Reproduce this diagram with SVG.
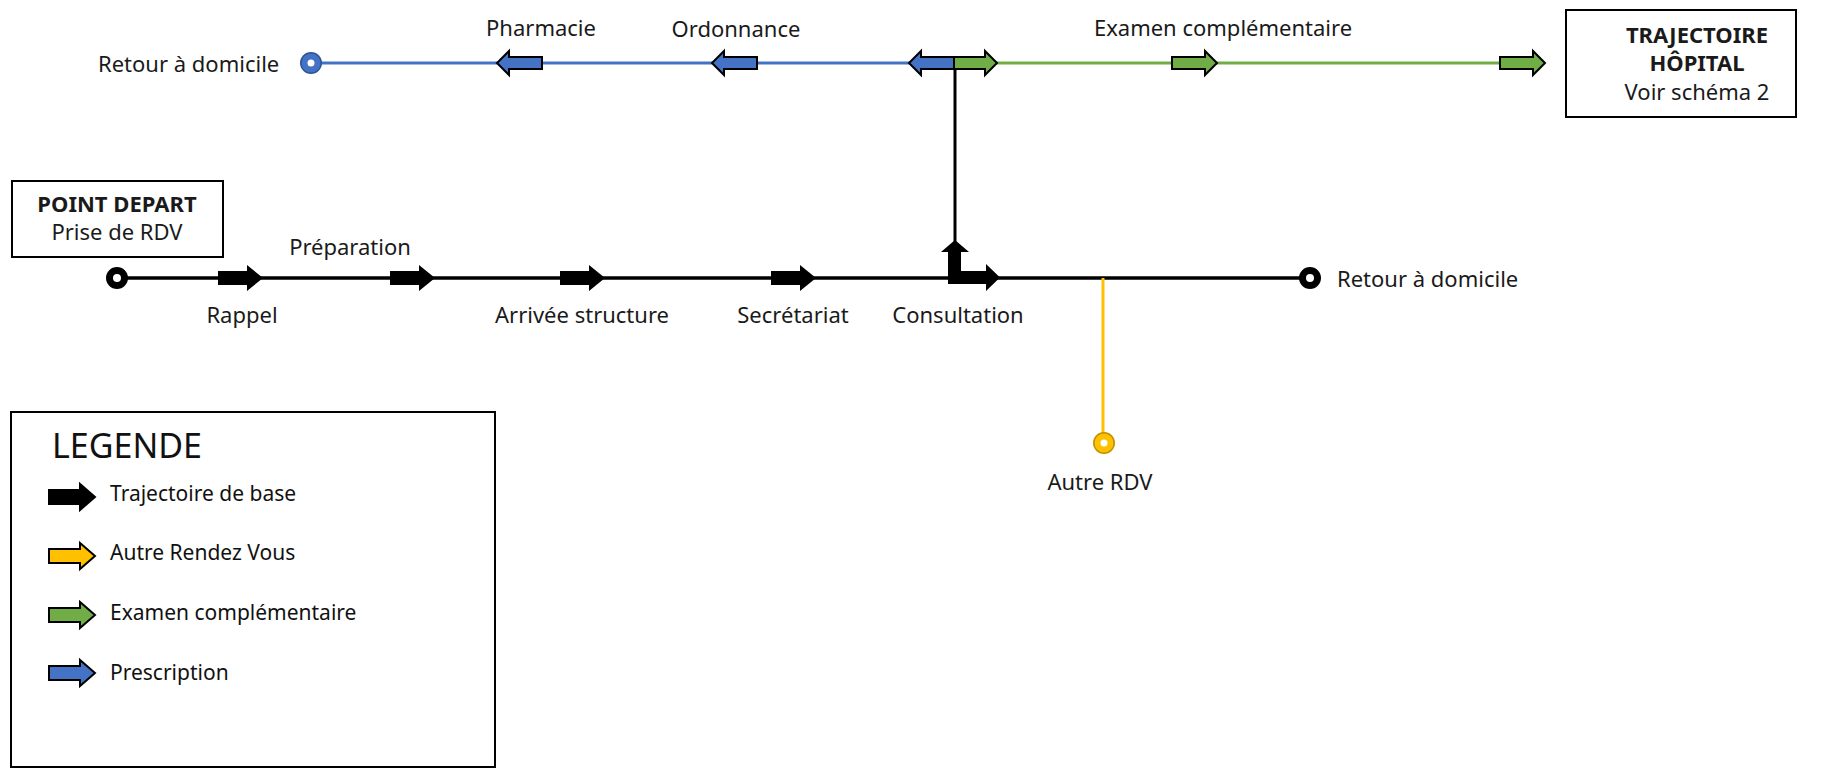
<svg xmlns="http://www.w3.org/2000/svg" xmlns:xlink="http://www.w3.org/1999/xlink" width="1831" height="771" viewBox="0 0 1831 771">
<style>
.lbl{font-family:"Noto Sans","Liberation Sans",sans-serif;font-size:22px;fill:#1a1a1a}
.bold{font-weight:bold}
.leg{font-family:"Noto Sans","Liberation Sans",sans-serif;font-size:21px;fill:#111}
.box{fill:#fff;stroke:#000;stroke-width:2}
.blk{fill:#000}
.blue{fill:#4472C4;stroke:#000;stroke-width:2;stroke-linejoin:miter}
.green{fill:#70AD47;stroke:#000;stroke-width:2;stroke-linejoin:miter}
.yellow{fill:#FFC000;stroke:#000;stroke-width:2;stroke-linejoin:miter}
.black{fill:#000;stroke:#000;stroke-width:2;stroke-linejoin:miter}
</style>
<defs>
<path id="aMain" d="M0,-7 H29 V-13 L45,0 L29,13 V7 H0 Z"/>
<path id="aTop" d="M0,-6 H33 V-12 L45,0 L33,12 V6 H0 Z"/>
<path id="aLeg" d="M0,-7 H31 V-13 L46,0 L31,13 V7 H0 Z"/>
</defs>
<rect width="1831" height="771" fill="#fff"/>

<g id="connectors" fill="none">
<line x1="311" y1="63" x2="954" y2="63" stroke="#4472C4" stroke-width="3"/>
<line x1="954" y1="63" x2="1520" y2="63" stroke="#70AD47" stroke-width="3"/>
<line x1="955" y1="63" x2="955" y2="245" stroke="#000" stroke-width="3"/>
<line x1="117" y1="278" x2="1310" y2="278" stroke="#000" stroke-width="3.5"/>
<line x1="1103" y1="278" x2="1103" y2="443" stroke="#FFC000" stroke-width="3"/>
</g>

<g id="node-point-depart">
<rect class="box" x="12" y="181" width="211" height="76"/>
<text class="lbl bold" x="117" y="212" text-anchor="middle">POINT DEPART</text>
<text class="lbl" x="117" y="240" text-anchor="middle">Prise de RDV</text>
</g>

<g id="node-start">
<circle cx="117" cy="278" r="7.5" fill="#fff" stroke="#000" stroke-width="7"/>
</g>

<g id="node-rappel">
<use href="#aMain" x="218" y="278" class="blk"/>
<text class="lbl" x="242" y="323" text-anchor="middle">Rappel</text>
</g>
<g id="node-preparation">
<use href="#aMain" x="390" y="278" class="blk"/>
<text class="lbl" x="350" y="255" text-anchor="middle">Préparation</text>
</g>
<g id="node-arrivee">
<use href="#aMain" x="560" y="278" class="blk"/>
<text class="lbl" x="582" y="323" text-anchor="middle">Arrivée structure</text>
</g>
<g id="node-secretariat">
<use href="#aMain" x="771" y="278" class="blk"/>
<text class="lbl" x="793" y="323" text-anchor="middle">Secrétariat</text>
</g>
<g id="node-consultation">
<path class="blk" d="M948,284 V252 H941 L955,240 L969,252 H961 V271 H986 V264 L1000,277.5 L986,291 V284 Z"/>
<text class="lbl" x="958" y="323" text-anchor="middle">Consultation</text>
</g>

<g id="node-retour-bas">
<circle cx="1310" cy="278" r="7.5" fill="#fff" stroke="#000" stroke-width="7"/>
<text class="lbl" x="1337" y="287">Retour à domicile</text>
</g>

<g id="node-autre-rdv">
<circle cx="1104" cy="443" r="11" fill="#BF9000"/>
<circle cx="1104" cy="443" r="6.5" fill="#fff" stroke="#FFC000" stroke-width="6"/>
<text class="lbl" x="1100" y="490" text-anchor="middle">Autre RDV</text>
</g>

<g id="node-retour-haut">
<circle cx="311" cy="63" r="11" fill="#2F5597"/>
<circle cx="311" cy="63" r="6.5" fill="#fff" stroke="#4472C4" stroke-width="6"/>
<text class="lbl" x="98" y="72">Retour à domicile</text>
</g>

<g id="node-pharmacie">
<use href="#aTop" transform="translate(542,63) scale(-1,1)" class="blue"/>
<text class="lbl" x="541" y="36" text-anchor="middle">Pharmacie</text>
</g>
<g id="node-ordonnance">
<use href="#aTop" transform="translate(757,63) scale(-1,1)" class="blue"/>
<text class="lbl" x="736" y="37" text-anchor="middle">Ordonnance</text>
</g>
<g id="node-branch">
<path class="blue" d="M954,57 H921 V51 L909,63 L921,75 V69 H954 Z"/>
<path class="green" d="M954,57 H985 V51 L997,63 L985,75 V69 H954 Z"/>
</g>
<g id="node-examen">
<use href="#aTop" x="1172" y="63" class="green"/>
<use href="#aTop" x="1500" y="63" class="green"/>
<text class="lbl" x="1223" y="36" text-anchor="middle">Examen complémentaire</text>
</g>

<g id="node-hopital">
<rect class="box" x="1566" y="10" width="230" height="107"/>
<text class="lbl bold" x="1697" y="43" text-anchor="middle">TRAJECTOIRE</text>
<text class="lbl bold" x="1697" y="71" text-anchor="middle">HÔPITAL</text>
<text class="lbl" x="1697" y="100" text-anchor="middle">Voir schéma 2</text>
</g>

<g id="node-legende">
<rect class="box" x="11" y="412" width="484" height="355"/>
<text x="52" y="458" font-family="Noto Sans, Liberation Sans, sans-serif" font-size="34" fill="#111">LEGENDE</text>
<use href="#aLeg" x="49" y="497" class="black"/>
<text class="leg" x="110" y="501">Trajectoire de base</text>
<use href="#aLeg" x="49" y="556" class="yellow"/>
<text class="leg" x="110" y="560">Autre Rendez Vous</text>
<use href="#aLeg" x="49" y="615" class="green"/>
<text class="leg" x="110" y="620">Examen complémentaire</text>
<use href="#aLeg" x="49" y="673" class="blue"/>
<text class="leg" x="110" y="680">Prescription</text>
</g>
</svg>
